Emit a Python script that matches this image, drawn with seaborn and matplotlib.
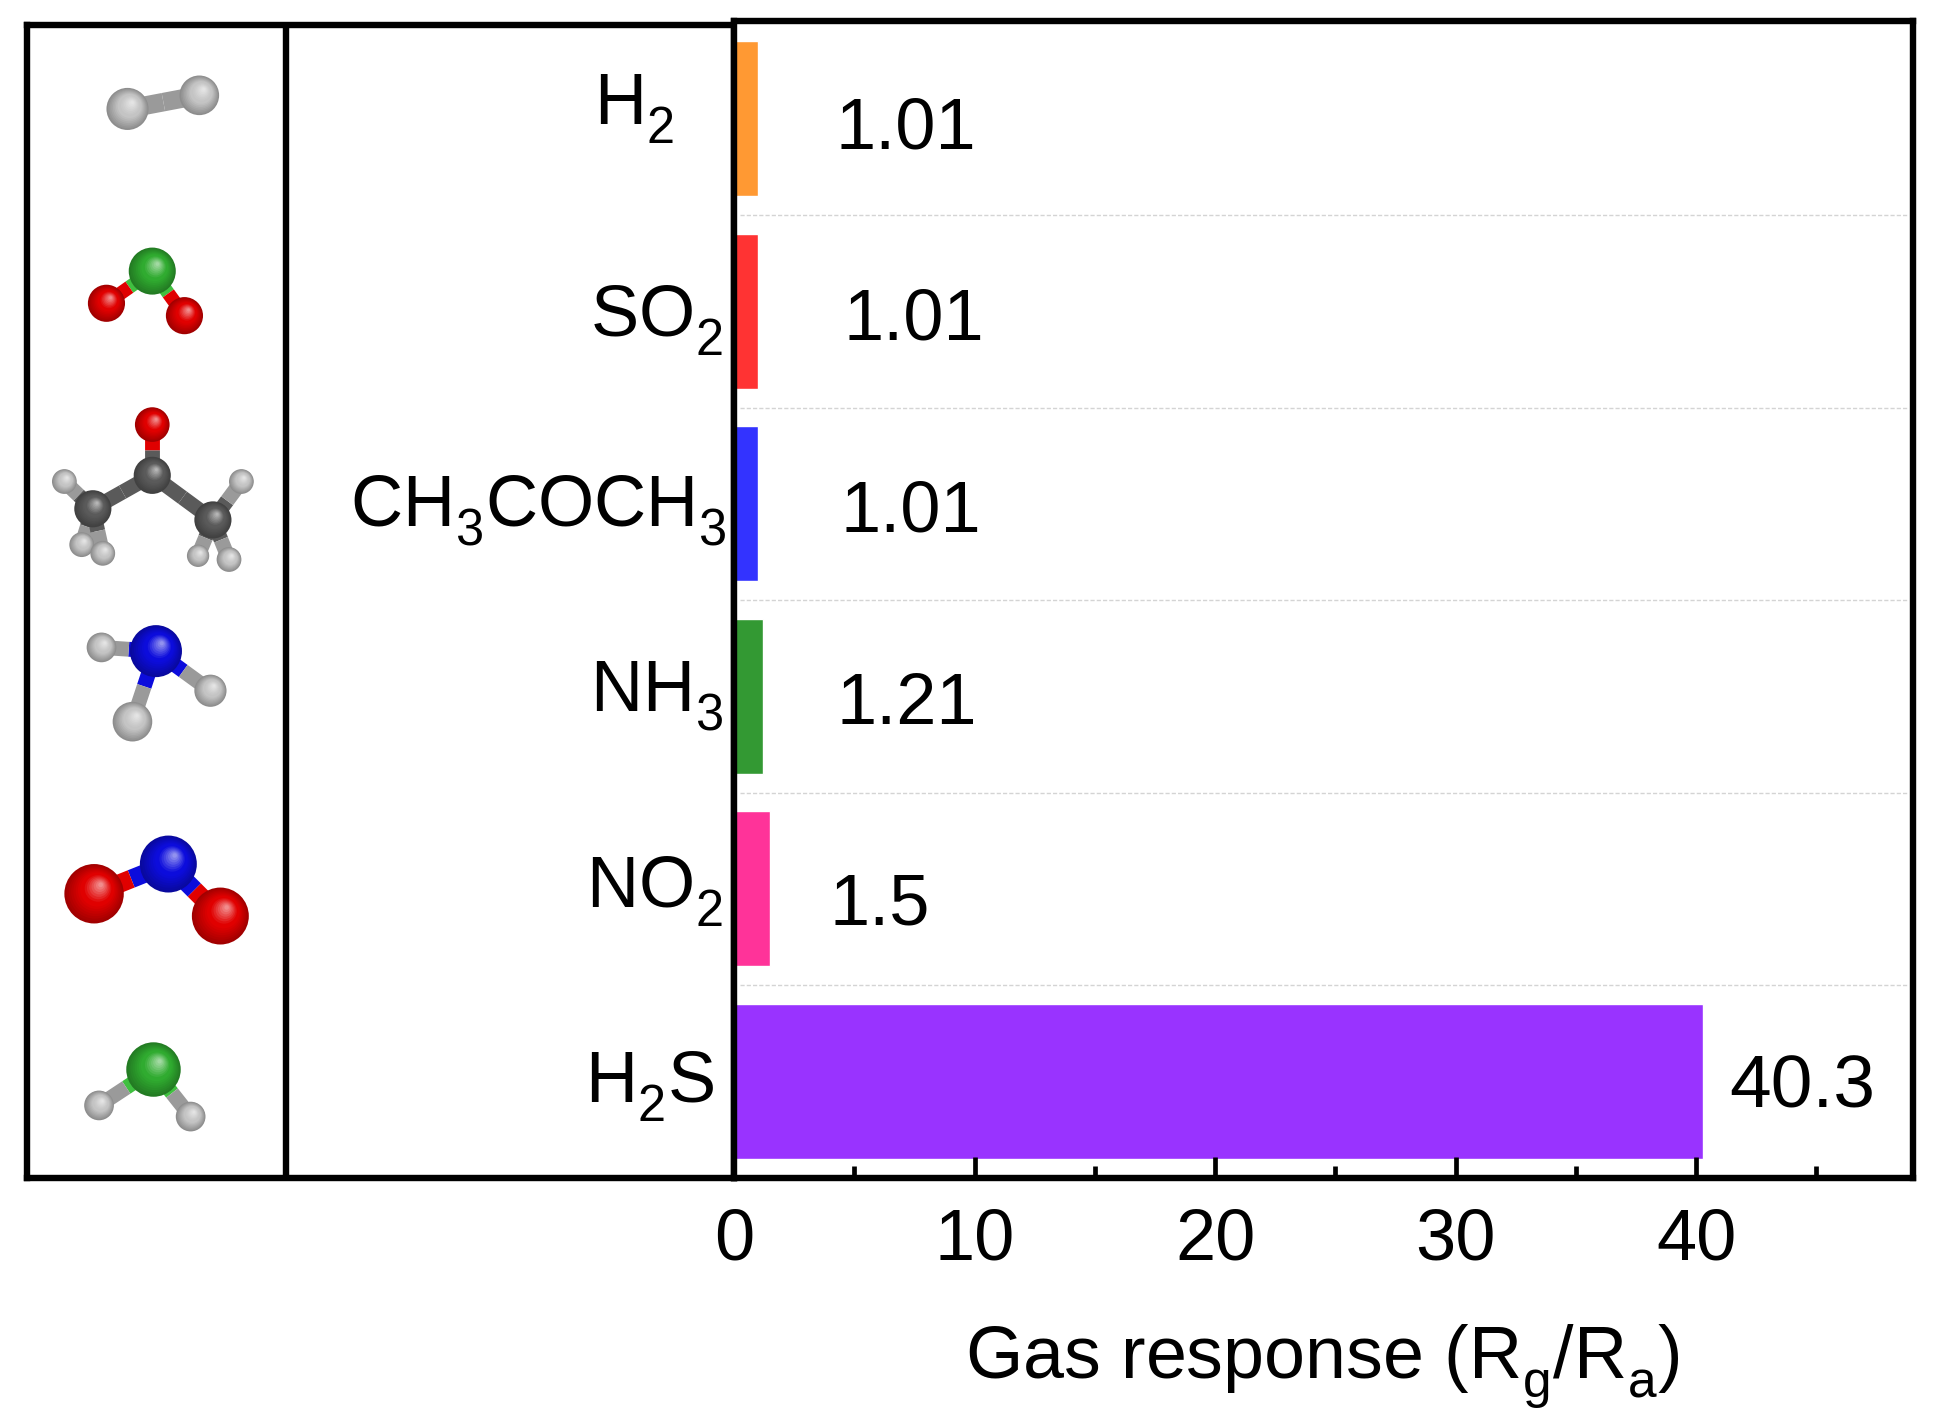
import numpy as np
import pandas as pd
import seaborn as sns
import matplotlib
matplotlib.use('Agg')
import matplotlib.pyplot as plt
from matplotlib import _mathtext
from matplotlib.colors import to_rgb
from matplotlib.patches import Circle
from matplotlib.ticker import MultipleLocator

# the data
gases = ['H2', 'SO2', 'CH3COCH3', 'NH3', 'NO2', 'H2S']
gas_labels = ['H$_{2}$', 'SO$_{2}$', 'CH$_{3}$COCH$_{3}$', 'NH$_{3}$', 'NO$_{2}$', 'H$_{2}$S']
response = [1.01, 1.01, 1.01, 1.21, 1.5, 40.3]
value_labels = ['1.01', '1.01', '1.01', '1.21', '1.5', '40.3']
bar_colors = ['#FF9933', '#FF3333', '#3333FF', '#339933', '#FF3399', '#9933FF']
x_ticks = [0, 10, 20, 30, 40]
x_label = 'Gas response (R$_{g}$/R$_{a}$)'

sns.set_style('white')
plt.rcParams['font.family'] = ['Liberation Sans', 'DejaVu Sans']
plt.rcParams['mathtext.fontset'] = 'custom'
plt.rcParams['mathtext.rm'] = 'Liberation Sans'
plt.rcParams['mathtext.default'] = 'rm'
plt.rcParams['text.color'] = 'black'
plt.rcParams['axes.labelcolor'] = 'black'
plt.rcParams['xtick.color'] = 'black'
# subscripts sit lower in the original
_mathtext.FontConstantsBase.sub1 = 0.5

W, H = 1941, 1425
K = W / 1568  # I measured everything on a 1568 wide view


def box(x0, y0, x1, y1):
    # axes rectangle from measured pixel positions
    return [x0 * K / W, 1 - y1 * K / H, (x1 - x0) * K / W, (y1 - y0) * K / H]


fig = plt.figure(figsize=(W / 100, H / 100), dpi=100, facecolor='white')
ax_left = fig.add_axes(box(22, 20, 593, 952))
ax = fig.add_axes(box(593, 17, 1545, 952))

# bars
df = pd.DataFrame({'gas': gases, 'response': response})
sns.barplot(data=df, y='gas', x='response', hue='gas', palette=bar_colors, order=gases,
            hue_order=gases, orient='h', width=0.807, saturation=1, legend=False, ax=ax)
ax.set_xlim(0, 49.0)
ax.set_ylim(5.505, -0.508)

for i in range(len(gases) - 1):
    ax.axhline(i + 0.5, xmin=0.005, xmax=0.995, color='#d4d4d4', lw=1.0, ls=(0, (3, 1.5)), zorder=0)

ax.set_yticks([])
ax.set_ylabel('')
ax.set_xticks(x_ticks)
ax.xaxis.set_minor_locator(MultipleLocator(5))
ax.tick_params(axis='x', which='major', direction='in', length=15, width=3.4, labelsize=52, pad=21,
               bottom=True, zorder=5)
ax.tick_params(axis='x', which='minor', direction='in', length=8.5, width=3.4, bottom=True)
ax.set_xlabel(x_label, fontsize=53)
ax.xaxis.set_label_coords(0.499, -0.1236)
for s in ax.spines.values():
    s.set_linewidth(4.6)
    s.set_color('black')
    s.set_visible(True)
ax.set_axisbelow(False)

# value labels, each one sits a bit differently
label_dx = [62, 69, 66, 59, 48, 21]
label_dy = [24, 23, 22, 22, 29, 21]
label_size = [52, 52, 52, 52, 52, 54]
for i, txt in enumerate(value_labels):
    ax.annotate(txt, xy=(response[i], i), xytext=(label_dx[i] * K, -label_dy[i] * K),
                textcoords='offset pixels', fontsize=label_size[i], ha='left', va='baseline', color='black')

# gas names right aligned against the axis, also hand placed
name_right = [545, 584, 587, 584, 584, 577]
name_dy = [4, 20, 18.5, 12, 15, 17]
for i, txt in enumerate(gas_labels):
    ax.annotate(txt, xy=(0, i), xytext=((name_right[i] - 593) * K, -name_dy[i] * K),
                textcoords='offset pixels', fontsize=52, ha='right', va='baseline',
                color='black', annotation_clip=False)

# left panel with the molecules
ax_left.set_xlim(22, 593)
ax_left.set_ylim(952, 20)
ax_left.set_xticks([])
ax_left.set_yticks([])
for s in ax_left.spines.values():
    s.set_linewidth(4.6)
    s.set_color('black')
ax_left.axvline(231, color='black', lw=4.6)

GREY = '#c4c4c4'
DARK = '#5a5a5a'
RED = '#e00000'
BLUE = '#0c0cdc'
GREEN = '#30ab30'
BOND_COLOR = {GREY: '#9a9a9a', DARK: '#5a5a5a', RED: RED, BLUE: BLUE, GREEN: '#40c040'}


def ball(x, y, r, color):
    # fake sphere shading with stacked circles
    c = np.array(to_rgb(color))
    for t in np.linspace(0, 1, 16):
        rr = r * (1 - 0.92 * t)
        shade = c * (0.72 + 0.28 * min(t * 2.2, 1))
        if t > 0.55:
            shade = shade + (1 - shade) * (t - 0.55) / 0.45 * 0.55
        ax_left.add_patch(Circle((x + 0.22 * r * t, y - 0.3 * r * t), rr, fc=shade, ec='none', zorder=4))


def bond(p, q, color_p, color_q, lw):
    mid = ((p[0] + q[0]) / 2, (p[1] + q[1]) / 2)
    ax_left.plot([p[0], mid[0]], [p[1], mid[1]], color=BOND_COLOR[color_p], lw=lw * K * 0.72,
                 solid_capstyle='butt', zorder=3)
    ax_left.plot([mid[0], q[0]], [mid[1], q[1]], color=BOND_COLOR[color_q], lw=lw * K * 0.72,
                 solid_capstyle='butt', zorder=3)


def molecule(atoms, bonds, lw=11):
    for a, b in bonds:
        bond(atoms[a][:2], atoms[b][:2], atoms[a][3], atoms[b][3], lw)
    for x, y, r, col in atoms:
        ball(x, y, r, col)


molecule([(103, 88, 17, GREY), (161, 77, 16, GREY)], [(0, 1)], lw=15)
molecule([(123, 219, 19, GREEN), (86, 245, 15, RED), (149, 255, 15, RED)], [(0, 1), (0, 2)])
molecule([(123, 343, 14, RED), (123, 384, 15, DARK), (75, 411, 15, DARK), (172, 420, 15, DARK),
          (52, 389, 10, GREY), (195, 389, 10, GREY), (66, 440, 10, GREY), (83, 447, 10, GREY),
          (160, 449, 9, GREY), (185, 452, 10, GREY)],
         [(0, 1), (1, 2), (1, 3), (2, 4), (2, 6), (2, 7), (3, 5), (3, 8), (3, 9)], lw=12)
molecule([(126, 526, 21, BLUE), (82, 523, 12, GREY), (170, 558, 13, GREY), (107, 583, 16, GREY)],
         [(0, 1), (0, 2), (0, 3)], lw=12)
molecule([(136, 698, 23, BLUE), (76, 722, 24, RED), (178, 740, 23, RED)], [(0, 1), (0, 2)], lw=15)
molecule([(124, 864, 22, GREEN), (80, 893, 12, GREY), (154, 902, 12, GREY)], [(0, 1), (0, 2)], lw=12)

fig.savefig('out.png', dpi=100)
